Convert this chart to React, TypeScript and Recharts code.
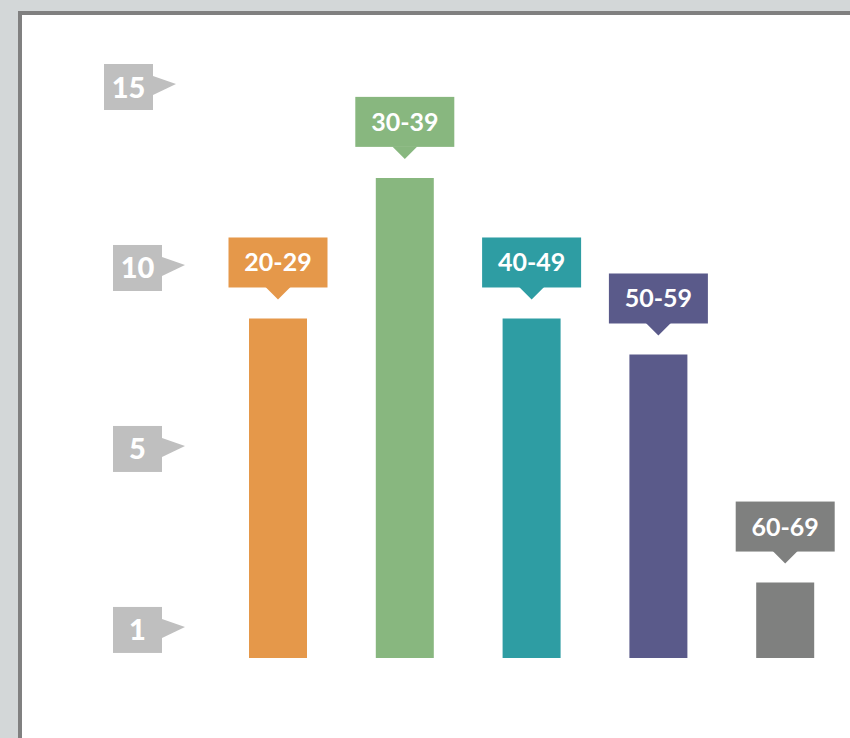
import React from "react";
import { BarChart, Bar, XAxis, YAxis, Cell, LabelList } from "recharts";

const categories = ["20-29", "30-39", "40-49", "50-59", "60-69"];
const values = [9.9, 14, 9.9, 8.85, 2.2];
const colors = ["#E5984A", "#88B77F", "#2E9DA3", "#5A5A8A", "#7F807F"];
const yTickLabels = ["1", "5", "10", "15"];
const yTickIndex = [0, 1, 2, 3];

const data = categories.map((c, i) => ({ category: c, value: values[i], color: colors[i] }));

const FONT = "Lato, 'Noto Sans', sans-serif";

const YTick = (props: any) => {
  const { x, y, payload } = props;
  const label = yTickLabels[payload.value] ?? "";
  const shift = payload.value === 3 ? -9 : 0;
  const tip = x - 30 + shift;
  const boxRight = tip - 23;
  const boxLeft = boxRight - 49;
  return (
    <g>
      <rect x={boxLeft} y={y - 23} width={49} height={46} fill="#BFBFBF" />
      <polygon points={`${boxRight},${y - 11} ${tip},${y - 3} ${boxRight},${y + 8}`} fill="#BFBFBF" />
      <text
        x={boxLeft + 24.5}
        y={y - 1}
        textAnchor="middle"
        dominantBaseline="central"
        fill="#FFFFFF"
        fontFamily={FONT}
        fontWeight={900}
        fontSize={29}
      >
        {label}
      </text>
    </g>
  );
};

const BarLabel = (props: any) => {
  const { x, y, width, index } = props;
  const cx = x + width / 2;
  const color = colors[index];
  const bottom = y - 31;
  return (
    <g>
      <rect x={cx - 49.5} y={bottom - 50} width={99} height={50} fill={color} />
      <polygon points={`${cx - 12.5},${bottom - 0.5} ${cx + 12.5},${bottom - 0.5} ${cx},${bottom + 12}`} fill={color} />
      <text
        x={cx}
        y={bottom - 26}
        textAnchor="middle"
        dominantBaseline="central"
        fill="#FFFFFF"
        fontFamily={FONT}
        fontWeight={700}
        fontSize={25}
      >
        {categories[index]}
      </text>
    </g>
  );
};

export default function App() {
  return (
    <div
      style={{
        position: "absolute",
        left: 0,
        top: 0,
        width: 850,
        height: 738,
        background: "#D3D7D8",
        overflow: "hidden",
      }}
    >
      <div
        style={{
          position: "absolute",
          left: 18,
          top: 11,
          width: 840,
          height: 740,
          background: "#FFFFFF",
          borderLeft: "4px solid #808080",
          borderTop: "4px solid #808080",
        }}
      />
      <div style={{ position: "absolute", left: 0, top: 0 }}>
        <BarChart
          width={850}
          height={738}
          data={data}
          margin={{ top: 87, right: 1, bottom: 80, left: 115 }}
          barCategoryGap={0}
        >
          <XAxis dataKey="category" hide />
          <YAxis yAxisId="val" hide domain={[0, 16.65]} allowDataOverflow />
          <YAxis
            yAxisId="lbl"
            orientation="left"
            width={100}
            type="number"
            domain={[-0.155, 3]}
            ticks={yTickIndex}
            allowDataOverflow
            axisLine={false}
            tickLine={false}
            tickSize={0}
            tickMargin={0}
            tick={<YTick />}
            interval={0}
          />
          <Bar yAxisId="val" dataKey="value" barSize={58} isAnimationActive={false}>
            {data.map((d, i) => (
              <Cell key={i} fill={d.color} />
            ))}
            <LabelList dataKey="value" content={<BarLabel />} />
          </Bar>
        </BarChart>
      </div>
    </div>
  );
}
